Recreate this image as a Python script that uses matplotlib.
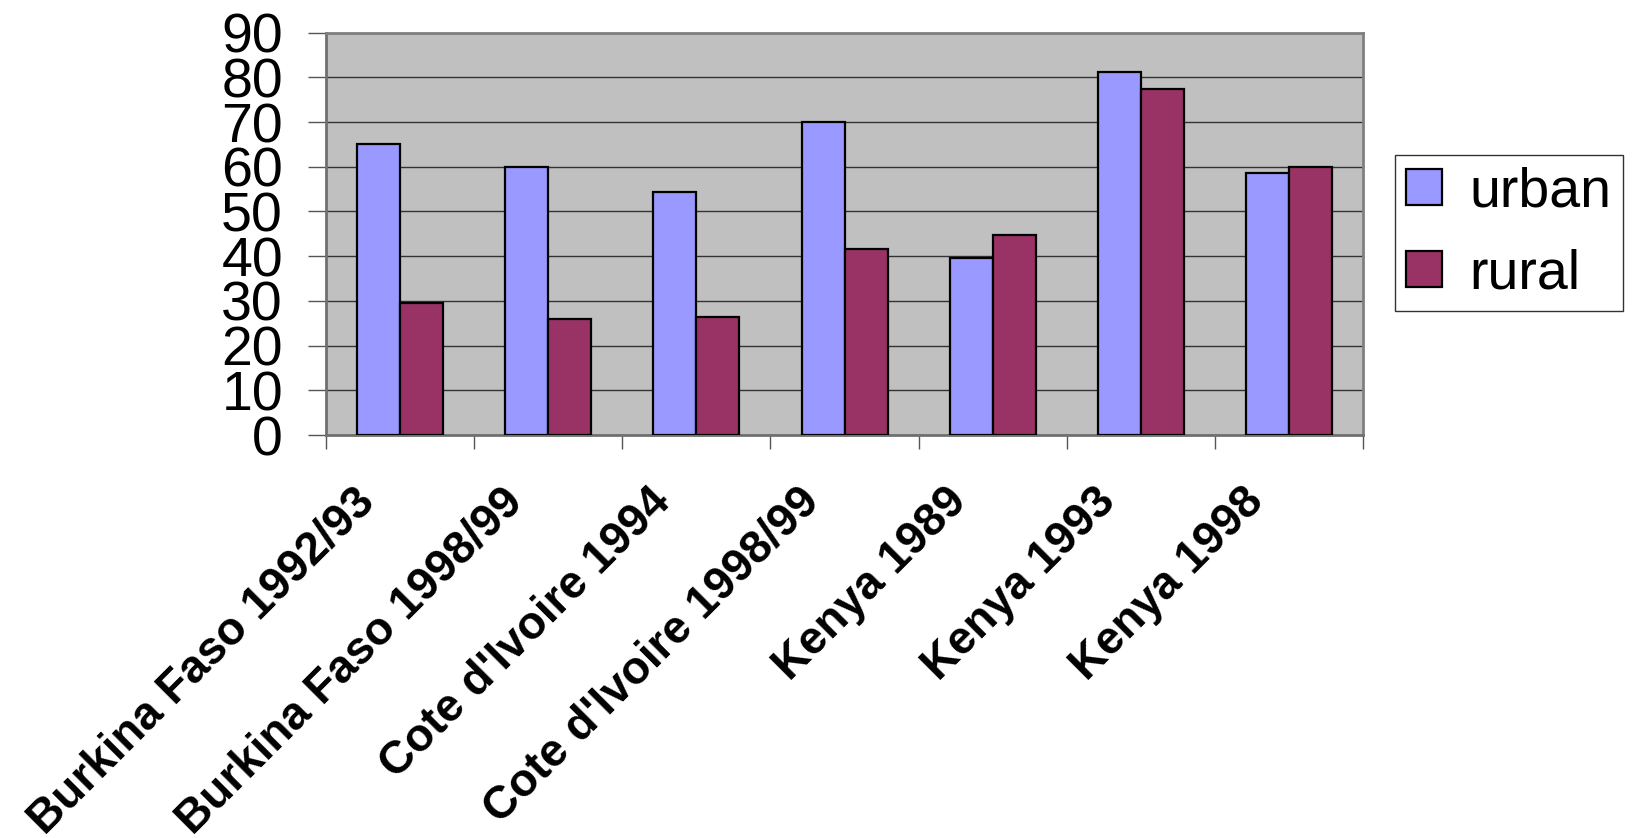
import matplotlib
matplotlib.use("Agg")
import matplotlib.pyplot as plt
import numpy as np
from matplotlib.transforms import ScaledTranslation

plt.rcParams["font.family"] = ["Liberation Sans", "DejaVu Sans"]

surveys = [
    "Burkina Faso 1992/93",
    "Burkina Faso 1998/99",
    "Cote d'Ivoire 1994",
    "Cote d'Ivoire 1998/99",
    "Kenya 1989",
    "Kenya 1993",
    "Kenya 1998",
]
urban = [65, 60, 54.3, 70, 39.7, 81.3, 58.5]
rural = [29.6, 25.9, 26.5, 41.5, 44.7, 77.4, 60]
y_ticks = list(range(0, 91, 10))

URBAN_COLOR = "#9999FF"
RURAL_COLOR = "#993366"
PLOT_BG = "#C0C0C0"

fig = plt.figure(figsize=(16.35, 8.38), dpi=100)
ax = fig.add_axes([0.1994, 0.4809, 0.6343, 0.4801])
ax.set_facecolor(PLOT_BG)

x = np.arange(len(surveys))
w = 0.29
ax.bar(x - w / 2, urban, width=w, color=URBAN_COLOR, edgecolor="black",
       linewidth=1.6, label="urban", zorder=3)
ax.bar(x + w / 2, rural, width=w, color=RURAL_COLOR, edgecolor="black",
       linewidth=1.6, label="rural", zorder=3)

ax.set_xlim(-0.5, len(surveys) - 0.5)
ax.set_ylim(0, 90)

# horizontal gridlines
ax.set_yticks(y_ticks)
ax.set_yticklabels([str(v) for v in y_ticks], fontsize=40)
ax.yaxis.grid(True, color="#333333", linewidth=1.0, zorder=1)
ax.set_axisbelow(True)
ax.tick_params(axis="y", direction="out", length=13, width=1.0,
               color="#555555", pad=18)

# category boundaries carry the tick marks, centres carry the labels
ax.set_xticks(np.arange(-0.5, len(surveys)))
ax.set_xticklabels([])
ax.tick_params(axis="x", which="major", direction="out", length=10,
               width=1.0, color="#555555")
ax.set_xticks(x, minor=True)
ax.set_xticklabels(surveys, minor=True, rotation=45, ha="right", va="top",
                   rotation_mode="anchor", fontsize=33, fontweight="bold")
ax.tick_params(axis="x", which="minor", length=0, pad=32)
shift = ScaledTranslation(-0.48, 0, fig.dpi_scale_trans)
for lab in ax.get_xticklabels(minor=True):
    lab.set_transform(lab.get_transform() + shift)

for side in ["top", "right"]:
    ax.spines[side].set_color("#808080")
    ax.spines[side].set_linewidth(2.0)
for side in ["left", "bottom"]:
    ax.spines[side].set_color("#707070")
    ax.spines[side].set_linewidth(2.0)

leg = fig.legend(loc="upper left", bbox_to_anchor=(0.853, 0.815),
                 bbox_transform=fig.transFigure, fontsize=40,
                 frameon=True, fancybox=False, borderaxespad=0,
                 handlelength=0.65, handleheight=0.62, handletextpad=0.5,
                 borderpad=0.2, labelspacing=0.54)
leg.get_frame().set_edgecolor("black")
leg.get_frame().set_linewidth(1.0)

fig.savefig("out.png", dpi=100)
